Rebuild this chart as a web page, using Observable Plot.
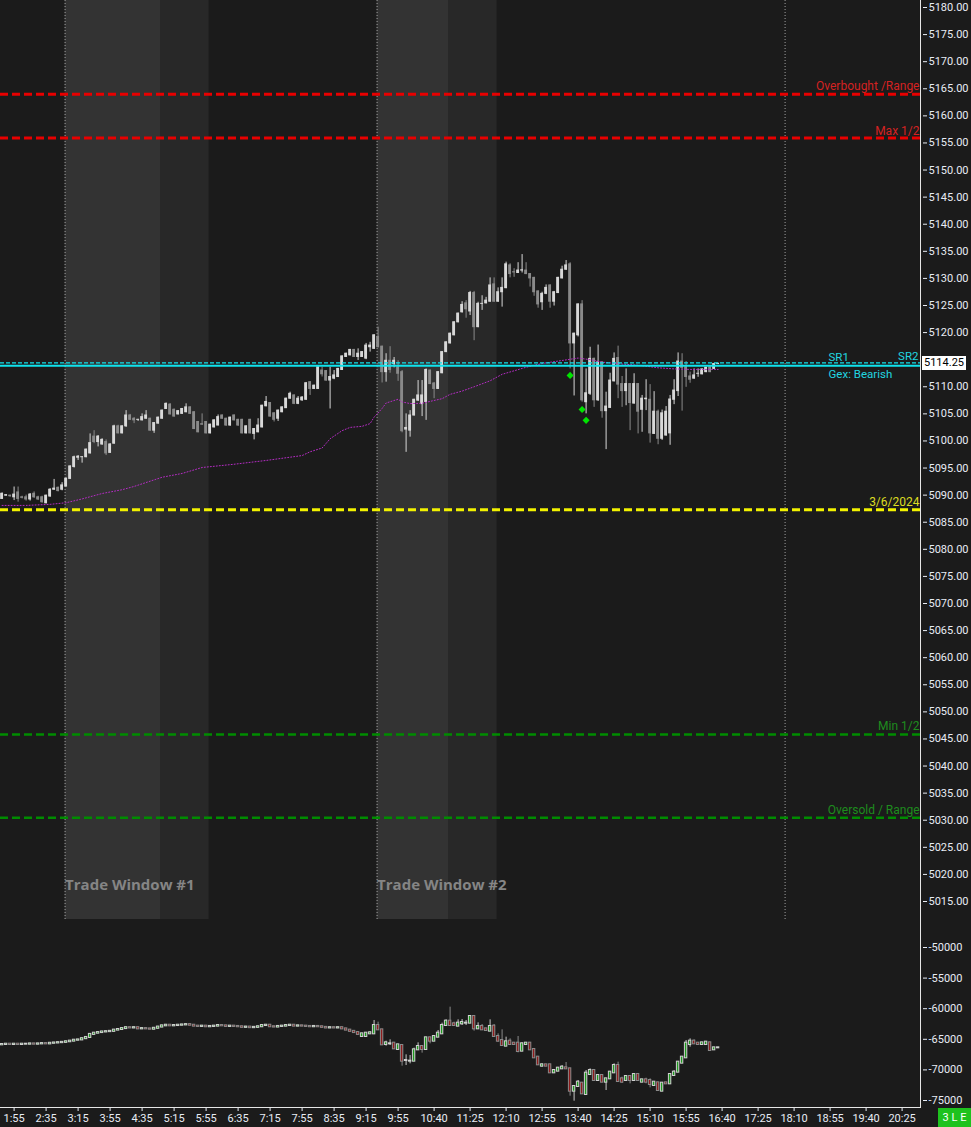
<!DOCTYPE html>
<html>
<head>
<meta charset="utf-8">
<script src="https://cdn.jsdelivr.net/npm/d3@7"></script>
<script src="https://cdn.jsdelivr.net/npm/@observablehq/plot@0.6"></script>
<style>
  html, body { margin: 0; padding: 0; background: #1b1b1b; }
  #wrap { position: relative; width: 971px; height: 1127px; background: #1b1b1b; overflow: hidden; }
  #main { position: absolute; left: 0; top: 0; }
  #lower { position: absolute; left: 0; top: 919px; }
  #tag { position: absolute; left: 922px; width: 44px; height: 14px; background: #ffffff; color: #000; font: 11px Roboto, "Liberation Sans", sans-serif; line-height: 14px; text-align: center; }
  #badge { position: absolute; left: 938px; top: 1108px; width: 33px; height: 19px; background: #1ec21e; color: #fff; font: 11px Roboto, "Liberation Sans", sans-serif; line-height: 19px; text-align: center; }
</style>
</head>
<body>
<div id="wrap"><div id="main"></div><div id="lower"></div><div id="tag"></div><div id="badge"></div></div>
<script>
// ---------------- DATA ----------------
const firstBarTime = "1:40";           // 5-minute bars
const barMinutes = 5;

const opens = [
5089.3,5089.9,5089.9,5089.6,5090.5,5089.6,5089.6,5089.2,5090.25,5089.6,
5089.6,5088.5,5089.75,5091.0,5091.35,5091.0,5091.6,5093.0,5095.2,5096.9,
5097.0,5097.0,5097.7,5100.8,5099.8,5099.35,5099.8,5097.8,5099.5,5102.7,
5101.4,5102.7,5104.7,5104.1,5103.9,5103.8,5104.1,5104.1,5101.9,5103.2,
5104.1,5105.9,5106.7,5105.75,5104.9,5105.0,5105.3,5106.2,5105.3,5103.5,
5103.1,5103.5,5101.4,5102.5,5102.85,5104.7,5104.1,5102.85,5104.7,5103.9,
5103.9,5101.4,5103.9,5101.3,5101.6,5102.5,5106.4,5107.0,5105.1,5104.1,
5105.3,5106.05,5107.8,5108.4,5106.85,5107.5,5107.6,5110.85,5109.6,5109.6,
5113.0,5112.9,5111.15,5111.5,5111.8,5113.1,5115.5,5115.8,5116.8,5115.5,
5115.5,5115.2,5117.3,5117.0,5119.2,5117.4,5112.7,5114.8,5114.2,5113.6,
5112.7,5102.1,5101.9,5104.7,5107.45,5106.8,5107.2,5113.0,5110.6,5109.6,
5112.5,5116.4,5118.0,5119.5,5121.9,5123.75,5125.4,5123.9,5127.3,5121.0,
5125.3,5125.4,5125.7,5128.9,5125.7,5127.45,5128.2,5132.4,5131.15,5131.0,
5131.45,5131.45,5130.8,5130.1,5127.6,5125.6,5127.15,5128.7,5125.7,5127.3,
5130.0,5131.6,5132.6,5118.0,5119.5,5125.2,5107.15,5108.7,5115.15,5107.5,
5114.5,5105.5,5106.1,5111.0,5115.3,5110.5,5109.2,5110.5,5106.9,5110.5,
5105.75,5107.7,5107.6,5101.3,5105.4,5100.4,5101.0,5101.4,5107.6,5109.2,
5114.65,5113.6,5111.9,5111.5,5112.4,5112.3,5112.7,5113.6,5113.3,5114.2];
const highs = [
5090.4,5090.1,5090.0,5091.5,5091.5,5089.8,5090.0,5090.3,5090.6,5089.8,
5089.8,5090.0,5091.2,5092.9,5091.5,5092.3,5093.2,5095.4,5097.2,5097.3,
5097.1,5098.5,5101.3,5101.9,5101.0,5100.4,5100.2,5099.5,5102.9,5102.9,
5102.8,5105.6,5104.9,5104.3,5104.0,5105.0,5105.6,5104.2,5103.4,5104.4,
5105.7,5107.0,5106.9,5105.9,5105.6,5106.0,5106.85,5106.3,5105.4,5103.6,
5105.0,5103.6,5103.1,5103.9,5104.8,5104.8,5104.2,5104.4,5104.8,5104.0,
5104.0,5102.8,5104.0,5102.3,5104.1,5106.6,5108.2,5107.1,5105.2,5105.7,
5106.3,5107.9,5109.0,5108.5,5108.2,5108.2,5110.8,5110.9,5110.3,5113.7,
5113.6,5113.0,5113.6,5113.0,5113.4,5115.7,5116.2,5116.9,5116.9,5117.0,
5116.5,5118.0,5118.2,5119.6,5121.0,5117.5,5116.1,5117.4,5115.4,5114.8,
5113.0,5105.0,5105.6,5107.7,5111.15,5111.15,5113.3,5113.1,5110.8,5112.8,
5116.5,5118.3,5119.9,5122.0,5123.6,5125.7,5125.9,5127.6,5127.6,5125.6,
5126.8,5126.5,5130.1,5130.1,5128.25,5130.1,5133.0,5132.7,5131.8,5132.9,
5134.4,5132.9,5130.9,5130.2,5127.7,5127.45,5128.8,5128.8,5127.6,5130.2,
5132.25,5133.3,5132.9,5119.9,5125.3,5125.9,5113.3,5117.3,5115.3,5117.7,
5114.6,5109.0,5112.5,5116.25,5117.5,5111.9,5113.3,5110.6,5112.4,5110.6,
5108.4,5111.3,5110.4,5109.1,5105.7,5105.7,5106.35,5108.4,5111.3,5116.25,
5116.1,5114.65,5112.7,5113.3,5113.3,5113.3,5113.6,5113.7,5114.3,5114.3];
const lows = [
5089.2,5089.8,5089.6,5089.0,5088.7,5089.3,5088.9,5088.9,5089.4,5089.0,
5088.5,5088.4,5089.6,5090.9,5090.6,5090.8,5091.5,5092.9,5095.0,5096.4,
5095.9,5096.9,5097.6,5099.5,5098.9,5099.2,5097.3,5097.7,5099.4,5101.3,
5101.3,5102.5,5103.8,5103.2,5103.6,5103.7,5104.0,5101.8,5101.4,5103.1,
5104.0,5105.8,5104.8,5104.4,5104.8,5104.9,5105.2,5104.9,5102.1,5101.5,
5102.9,5101.3,5101.3,5102.4,5102.8,5104.0,5102.7,5102.7,5103.7,5102.7,
5101.3,5101.3,5101.3,5100.2,5101.5,5102.4,5106.3,5104.4,5103.5,5103.6,
5105.2,5106.0,5107.7,5106.7,5106.7,5107.3,5107.5,5108.4,5109.5,5109.5,
5111.8,5111.0,5105.9,5111.3,5111.7,5113.0,5115.4,5115.7,5115.4,5114.85,
5115.4,5115.0,5116.4,5116.9,5117.2,5110.7,5110.85,5112.5,5113.5,5111.0,
5101.5,5097.9,5100.7,5104.6,5107.3,5104.5,5103.8,5110.4,5107.8,5109.5,
5112.4,5116.3,5117.9,5119.4,5121.8,5123.6,5122.65,5123.15,5118.5,5120.9,
5124.1,5125.3,5125.6,5125.6,5125.6,5124.7,5128.1,5130.1,5130.2,5130.9,
5131.0,5130.7,5128.4,5126.7,5124.5,5124.1,5127.0,5124.5,5124.9,5127.2,
5129.9,5131.5,5113.3,5108.3,5119.2,5107.15,5105.0,5108.4,5106.2,5107.3,
5104.2,5098.4,5106.0,5110.9,5107.8,5106.2,5106.5,5101.9,5106.8,5101.3,
5101.6,5105.6,5099.6,5101.2,5099.3,5100.1,5100.9,5099.2,5106.7,5108.2,
5105.5,5109.9,5110.65,5111.4,5111.75,5112.2,5112.6,5112.6,5113.2,5114.1];
const closes = [
5090.25,5090.0,5089.8,5090.1,5089.3,5089.5,5089.2,5090.1,5089.6,5089.2,
5088.7,5089.9,5091.0,5091.2,5090.75,5091.8,5093.0,5095.3,5097.0,5097.1,
5097.0,5098.4,5099.6,5099.8,5100.8,5100.2,5097.7,5099.35,5102.7,5101.4,
5102.7,5104.7,5103.9,5103.8,5103.9,5104.4,5104.7,5101.9,5103.3,5104.3,
5105.6,5106.85,5104.9,5104.5,5105.5,5105.9,5106.2,5105.0,5102.2,5101.6,
5103.0,5101.4,5103.0,5103.8,5104.4,5104.1,5102.85,5104.3,5103.8,5102.85,
5101.4,5102.7,5101.4,5102.2,5102.85,5106.5,5107.2,5104.5,5103.9,5105.6,
5106.2,5107.8,5108.7,5106.85,5107.8,5108.0,5110.65,5109.6,5110.2,5113.6,
5112.3,5111.15,5111.8,5112.1,5113.3,5115.6,5116.1,5116.8,5115.5,5116.1,
5116.4,5117.6,5117.6,5119.5,5117.3,5112.7,5114.8,5113.1,5114.8,5112.4,
5101.8,5102.4,5104.7,5107.6,5108.4,5108.4,5113.1,5110.5,5109.6,5112.7,
5116.4,5118.2,5119.8,5121.9,5123.5,5125.1,5124.3,5127.3,5121.0,5125.3,
5125.3,5125.9,5128.7,5125.7,5127.45,5128.25,5132.6,5130.8,5131.1,5131.45,
5131.5,5130.8,5130.0,5127.45,5125.2,5127.15,5128.25,5125.7,5127.45,5130.1,
5131.6,5132.4,5118.0,5119.8,5125.2,5107.5,5108.8,5115.15,5107.5,5114.5,
5105.5,5106.35,5111.15,5115.15,5110.4,5109.2,5110.5,5107.0,5110.5,5105.4,
5107.8,5107.8,5101.4,5105.4,5100.4,5105.1,5105.4,5107.65,5109.3,5114.65,
5113.5,5111.8,5111.3,5112.1,5112.4,5113.2,5113.5,5112.7,5114.2,5114.25];

// VWAP-style dotted average (bar index, value)
const vwapBars = [0,6,12,16,20,25,30,33,40,45,50,58,66,75,77,80,82,85,87,90,92,93,95,96,99,100,102,105,107,110,112,115,118,122,125,131,135,140,144,147,150,155,160,164,168,172,179];
const vwapValues = [5088.1,5088.1,5088.3,5088.6,5089.3,5090.3,5091.0,5091.6,5093.3,5094.0,5095.1,5095.7,5096.4,5097.3,5098.0,5098.7,5100.4,5101.9,5102.5,5102.7,5103.2,5104.4,5106.0,5107.0,5107.7,5107.2,5106.9,5106.95,5107.3,5107.8,5108.6,5109.2,5110.0,5111.1,5112.3,5113.6,5114.3,5114.85,5115.3,5115.0,5114.55,5114.2,5113.9,5113.5,5113.3,5113.2,5113.2];

// signal diamonds
const signalBars = [142, 145, 146];
const signalPrices = [5112.1, 5105.8, 5103.8];

// horizontal levels
const levelNames = ["Overbought /Range", "Max 1/2", "3/6/2024", "Min 1/2", "Oversold / Range"];
const levelValues = [5164.0, 5155.9, 5087.3, 5045.8, 5030.45];
const srNames = ["SR1", "SR2"];
const srValue = 5114.4;
const gexName = "Gex: Bearish";
const gexValue = 5113.9;

// trade windows
const windowNames = ["Trade Window #1", "Trade Window #2"];
const windowStarts = ["3:00", "9:30"];
const windowMids = ["5:00", "11:00"];
const windowEnds = ["6:00", "12:00"];
const sessionBreak = "18:00";

// lower panel (delta candles)
const deltaOpen = [
-65900,-65850,-65800,-65850,-65800,-65850,-65800,-65800,-65750,-65800,
-65750,-65700,-65750,-65650,-65600,-65550,-65500,-65400,-65300,-65150,
-65100,-64900,-64700,-64200,-64000,-63900,-63800,-63750,-63700,-63500,
-63400,-63250,-63100,-63150,-63100,-63300,-63250,-63300,-63350,-63200,
-63000,-62800,-62700,-62800,-62750,-62700,-62650,-62600,-62700,-62850,
-62900,-62850,-62950,-62900,-62850,-62750,-62800,-62900,-62850,-62900,
-62950,-63050,-63000,-63100,-63050,-62950,-62750,-62700,-62950,-63000,
-62900,-62850,-62750,-62700,-62850,-62800,-62850,-62900,-62950,-62900,
-62950,-63050,-63150,-63100,-63150,-63100,-63300,-63500,-63700,-63900,
-64543,-64543,-64107,-64107,-62745,-63453,-65850,-65741,-65632,-66667,
-66013,-68465,-68574,-68574,-66722,-66177,-66667,-64760,-65305,-64652,
-64107,-62745,-62037,-62473,-62854,-62473,-62364,-62364,-61275,-63290,
-62909,-63290,-63671,-62854,-64543,-65196,-66122,-65305,-65632,-65632,
-66939,-65850,-65632,-66667,-67920,-69390,-69173,-69173,-70480,-70208,
-69826,-69663,-69826,-73476,-72713,-72169,-74021,-70752,-70099,-71733,
-70916,-72005,-71460,-70480,-69282,-71460,-71733,-71079,-71733,-70752,
-72005,-71624,-71733,-72549,-72114,-73476,-72114,-72278,-70916,-70371,
-68900,-68029,-65850,-65305,-65632,-65850,-65850,-65578,-66722,-66395];
const deltaClose = [
-65850,-65800,-65850,-65800,-65850,-65800,-65800,-65750,-65800,-65750,
-65700,-65750,-65650,-65600,-65550,-65500,-65400,-65300,-65150,-65100,
-64900,-64700,-64200,-64000,-63900,-63800,-63750,-63700,-63500,-63400,
-63250,-63100,-63150,-63100,-63300,-63250,-63300,-63350,-63200,-63000,
-62800,-62700,-62800,-62750,-62700,-62650,-62600,-62700,-62850,-62900,
-62850,-62950,-62900,-62850,-62750,-62800,-62900,-62850,-62900,-62950,
-63050,-63000,-63100,-63050,-62950,-62750,-62700,-62950,-63000,-62900,
-62850,-62750,-62700,-62850,-62800,-62850,-62900,-62950,-62900,-62950,
-63050,-63150,-63100,-63150,-63100,-63300,-63500,-63700,-63900,-64200,
-64107,-64000,-63943,-62745,-63453,-65905,-65578,-65741,-66558,-65905,
-68574,-68465,-68574,-66722,-66177,-66667,-64760,-65305,-64543,-64000,
-62745,-62037,-62745,-62745,-62364,-62255,-62364,-61275,-63290,-62909,
-63453,-63562,-62909,-64543,-65305,-66013,-65414,-65850,-65850,-66994,
-65741,-65632,-66722,-68029,-69173,-69173,-69390,-70480,-70099,-69717,
-69554,-69826,-73476,-72713,-72005,-73912,-70534,-70099,-71733,-70916,
-72005,-71460,-70371,-69282,-71896,-72005,-71079,-71733,-70752,-71733,
-71624,-72005,-72386,-72005,-73367,-72169,-72278,-70752,-70371,-68737,
-67920,-65632,-65305,-65741,-65850,-65578,-65469,-66830,-66395,-66395];
// null = no wick beyond the body
const deltaHigh = [
null,null,null,null,null,null,null,null,null,null,
null,null,null,null,null,null,null,null,null,null,
null,null,null,null,null,null,null,null,null,null,
null,null,null,null,null,null,null,null,null,null,
null,null,null,null,null,null,null,null,null,null,
null,null,null,null,null,null,null,null,null,null,
null,null,null,null,null,null,null,null,null,null,
null,null,null,null,null,null,null,null,null,null,
null,null,null,null,null,null,null,null,null,null,
null,null,-63726,-61928,-62200,null,-65305,-65087,null,null,
null,-67539,-67648,-66449,-65578,null,null,null,null,-63562,
-62364,-61819,-59749,-62200,-61819,-61765,-61928,null,-61111,-62310,
-62582,null,-61819,-62582,-64107,-63453,-64652,-64924,null,-64543,
-65578,null,null,null,null,-69009,null,null,null,null,
-69282,-68791,null,null,-71733,null,-70099,-69826,null,null,
null,null,null,-69009,-68737,-71188,null,null,null,null,
null,-71352,-71460,null,null,null,null,null,-70099,null,
null,-65196,-64924,-65087,null,null,null,null,null,null];
const deltaLow = [
null,null,null,null,null,null,null,null,null,null,
null,null,null,null,null,null,null,null,null,null,
null,null,null,null,null,null,null,null,null,null,
null,null,null,null,null,null,null,null,null,null,
null,null,null,null,null,null,null,null,null,null,
null,null,null,null,null,null,null,null,null,null,
null,null,null,null,null,null,null,null,null,null,
null,null,null,null,null,null,null,null,null,null,
null,null,null,null,null,null,null,null,null,null,
null,null,null,null,null,null,-66122,-66013,null,null,
-69390,-69282,-69009,null,null,-67266,null,-65741,null,null,
null,null,null,null,null,-62745,-62745,null,-63671,null,
null,null,null,null,-65469,null,null,null,null,-67212,
null,null,null,null,-69282,-69554,null,null,null,null,
null,null,-74293,-75110,null,null,null,null,null,null,
null,-73367,null,null,null,-72169,null,-72278,null,null,
null,-72278,-72931,null,null,null,null,null,null,null,
null,null,-66286,null,null,null,null,null,null,null];

// axes
const priceTicks = [5015,5020,5025,5030,5035,5040,5045,5050,5055,5060,5065,5070,5075,5080,5085,5090,5095,5100,5105,5110,5115,5120,5125,5130,5135,5140,5145,5150,5155,5160,5165,5170,5175,5180];
const deltaTicks = [-50000,-55000,-60000,-65000,-70000,-75000];
const timeTicks = ["1:55","2:35","3:15","3:55","4:35","5:15","5:55","6:35","7:15","7:55","8:35","9:15","9:55","10:40","11:25","12:10","12:55","13:40","14:25","15:10","15:55","16:40","17:25","18:10","18:55","19:40","20:25"];
const badgeText = "3 L E";

// ---------------- BUILD ----------------
const toMin = s => { const [h, m] = s.split(":").map(Number); return h * 60 + m; };
const t0 = toMin(firstBarTime);
const bars = closes.map((c, i) => ({t: t0 + barMinutes * i, o: opens[i], h: highs[i], l: lows[i], c}));
const vwap = vwapBars.map((k, i) => ({t: t0 + barMinutes * k, v: vwapValues[i]}));
const signals = signalBars.map((k, i) => ({t: t0 + barMinutes * k, v: signalPrices[i]}));
const levels = levelNames.map((name, i) => ({name, v: levelValues[i]}));
const windows = windowNames.map((name, i) => ({name, s: toMin(windowStarts[i]), m: toMin(windowMids[i]), e: toMin(windowEnds[i])}));
const deltaBars = deltaClose.map((c, i) => {
  const o = deltaOpen[i];
  return {t: t0 + barMinutes * i, o, c,
    h: deltaHigh[i] == null ? Math.max(o, c) : deltaHigh[i],
    l: deltaLow[i] == null ? Math.min(o, c) : deltaLow[i]};
});
const tickMins = timeTicks.map(toMin);
const tickName = new Map(tickMins.map((m, i) => [m, timeTicks[i]]));
const lastClose = closes[closes.length - 1];

// styles
const W = 971, RIGHT = 920;
const xDomain = [toMin("1:38"), toMin("20:48")];
const UP = "#d8d8d8", DN = "#8a8a8a";
const AXIS = "#e8ecf4";
const CYAN = "#10e4ee", CYAN_TXT = "#22d6e0";
const levelStyle = {
  "Overbought /Range": {line: "#e80000", text: "#d42222", w: 3, dy: -8},
  "Max 1/2": {line: "#e80000", text: "#d42222", w: 3, dy: -7},
  "3/6/2024": {line: "#f2f200", text: "#dcdc22", w: 3, dy: -8},
  "Min 1/2": {line: "#008c00", text: "#1e8c1e", w: 2.5, dy: -8},
  "Oversold / Range": {line: "#008c00", text: "#1e8c1e", w: 2.5, dy: -7.5}
};
const bodyW = 1.8; // minutes on each side of bar centre
const shift = -1.25;

const baseStyle = {background: "transparent", fontFamily: "Roboto, 'Liberation Sans', sans-serif", fontSize: "11px", color: AXIS, overflow: "visible"};

const spans = windows.flatMap(w => [{a: w.s + shift, b: w.m + shift, light: true}, {a: w.m + shift, b: w.e + shift, light: false}]);
const vlines = [...windows.map(w => w.s), toMin(sessionBreak)];

const levelMarks = levels.flatMap(L => {
  const st = levelStyle[L.name];
  return [
    Plot.ruleY([L], {y: "v", stroke: st.line, strokeWidth: st.w, strokeDasharray: "8,4"}),
    Plot.text([L], {x: xDomain[1], y: "v", text: "name", textAnchor: "end", dx: -1, dy: st.dy, fill: st.text, fontSize: 12})
  ];
});

const main = Plot.plot({
  width: W, height: 919,
  marginLeft: 0, marginRight: W - RIGHT, marginTop: 0, marginBottom: 0,
  style: baseStyle,
  x: {domain: xDomain, range: [0, RIGHT], axis: null},
  y: {domain: [5015, 5180], range: [901, 7]},
  marks: [
    Plot.rect(spans, {x1: "a", x2: "b", fill: d => d.light ? "#333333" : "#282828"}),
    Plot.ruleX(vlines, {x: d => d + shift, stroke: "#a0a0a0", strokeDasharray: "1,2"}),
    Plot.text(windows, {x: d => d.s + shift, frameAnchor: "bottom", dy: -30, text: "name", textAnchor: "start",
      fill: "#858585", fontSize: 15, fontWeight: "bold", fontFamily: "'Open Sans', sans-serif"}),
    ...levelMarks,
    Plot.ruleX(bars, {x: "t", y1: "l", y2: "h", stroke: d => d.c >= d.o ? UP : DN}),
    Plot.rect(bars, {x1: d => d.t - bodyW, x2: d => d.t + bodyW, y1: d => Math.min(d.o, d.c), y2: d => Math.max(d.o, d.c),
      fill: d => d.c >= d.o ? UP : DN, insetTop: -0.5, insetBottom: -0.5}),
    Plot.line(vwap, {x: "t", y: "v", stroke: "#b52cc4", strokeWidth: 1, strokeDasharray: "1,2", curve: "linear"}),
    Plot.ruleY([srValue], {stroke: CYAN, strokeWidth: 1.3, strokeDasharray: "4,2"}),
    Plot.ruleY([gexValue], {stroke: CYAN, strokeWidth: 2}),
    Plot.text([srNames[0]], {x: xDomain[1], y: srValue, text: d => d, textAnchor: "start", dx: -92, dy: -6, fill: CYAN_TXT, fontSize: 11.5}),
    Plot.text([srNames[1]], {x: xDomain[1], y: srValue, text: d => d, textAnchor: "end", dx: -2, dy: -7, fill: CYAN_TXT, fontSize: 11.5}),
    Plot.text([gexName], {x: xDomain[1], y: gexValue, text: d => d, textAnchor: "start", dx: -92, dy: 9, fill: CYAN_TXT, fontSize: 11.5}),
    Plot.dot(signals, {x: "t", y: "v", symbol: "diamond2", r: 3.2, fill: "#00e400", stroke: "none"}),
    Plot.ruleX([xDomain[1]], {stroke: "#e6e6e6"}),
    // the tick label hidden under the current-price tag is left blank, as in the reference
    Plot.axisY(priceTicks, {anchor: "right", label: null, tickSize: 4, tickPadding: 2, dx: 2,
      tickFormat: d => Math.abs(d - lastClose) < 1.5 ? "" : d.toFixed(2), color: AXIS})
  ]
});
document.getElementById("main").append(main);

const lower = Plot.plot({
  width: W, height: 208,
  marginLeft: 0, marginRight: W - RIGHT, marginTop: 0, marginBottom: 19,
  style: baseStyle,
  x: {domain: xDomain, range: [0, RIGHT]},
  y: {domain: [-75000, -50000], range: [181, 28]},
  marks: [
    Plot.ruleX(deltaBars, {x: "t", y1: "l", y2: "h", stroke: d => d.c >= d.o ? "#c8c8c8" : "#8a8a8a"}),
    Plot.rect(deltaBars, {x1: d => d.t - 1.5, x2: d => d.t + 1.5, y1: d => Math.min(d.o, d.c), y2: d => Math.max(d.o, d.c),
      fill: d => d.c >= d.o ? "#1f9a1f" : "#8e1b1b", stroke: d => d.c >= d.o ? "#d0d0d0" : "#8a8a8a", strokeWidth: 1,
      insetTop: -0.5, insetBottom: -0.5}),
    Plot.ruleX([xDomain[1]], {stroke: "#e6e6e6"}),
    Plot.ruleY([-75000], {dy: 7, stroke: "#e6e6e6"}),
    Plot.axisY(deltaTicks, {anchor: "right", label: null, tickSize: 4, tickPadding: 2, dx: 2, tickFormat: d => String(d), color: AXIS}),
    Plot.axisX(tickMins, {anchor: "bottom", label: null, tickSize: 3, tickPadding: 3, tickFormat: d => tickName.get(d), color: AXIS})
  ]
});
document.getElementById("lower").append(lower);

// current price tag on the price axis
const tag = document.getElementById("tag");
tag.textContent = lastClose.toFixed(2);
tag.style.top = (main.scale("y").apply(lastClose) - 7) + "px";
document.getElementById("badge").textContent = badgeText;
</script>
</body>
</html>
